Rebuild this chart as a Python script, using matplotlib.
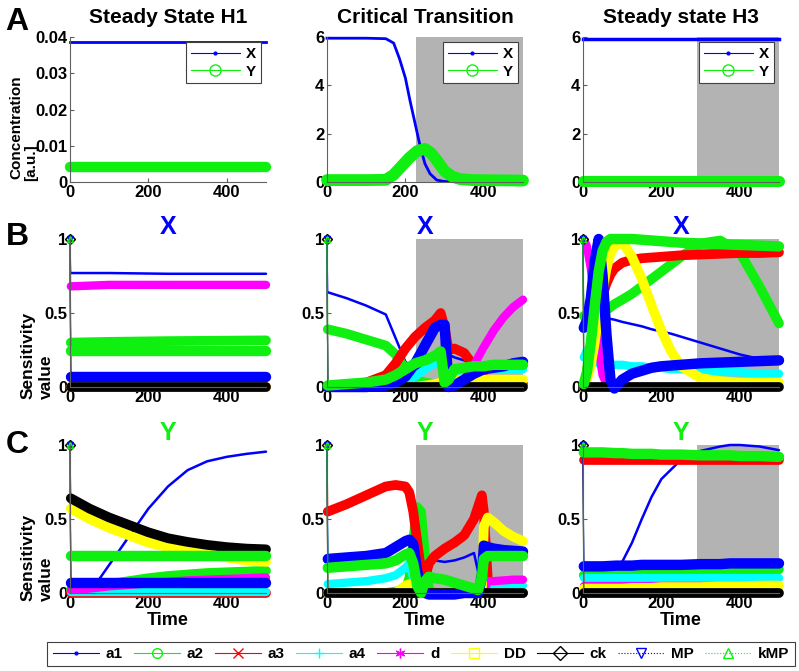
import numpy as np
import matplotlib
matplotlib.use('Agg')
import matplotlib.pyplot as plt
from matplotlib.lines import Line2D

plt.rcParams['font.family'] = ['Liberation Sans', 'DejaVu Sans']
plt.rcParams['font.weight'] = 'bold'

# ---- parameters / styles (MATLAB-like) ----
params = ['a1', 'a2', 'a3', 'a4', 'd', 'DD', 'ck', 'MP', 'kMP']
green = '#10f010'
asterisk = (6, 2, 0)
colors = ['#0000ff', green, '#ff0000', '#00ffff', '#ff00ff', '#ffff00', '#000000', '#0000ff', green]
markers = ['.', 'o', 'x', '+', asterisk, 's', 'D', 'v', '^']
lstyles = ['-', '-', '-', '-', '-', '-', '-', ':', ':']
band_w = [1.8, 7, 7, 6, 6, 7, 7, 7.5, 7.5]

col_titles = ['Steady State H1', 'Critical Transition', 'Steady state H3']
shade_start = [None, 226, 290]

# ---- row A: concentrations ----
t_h1_conc = [0, 100, 200, 300, 400, 500]
h1_X = [0.0385, 0.0385, 0.0385, 0.0385, 0.0385, 0.0385]
h1_Y = [0.0042, 0.0042, 0.0042, 0.0042, 0.0042, 0.0042]

t_ct_X = [0, 100, 150, 170, 185, 200, 212, 225, 238, 250, 263, 280, 300, 400, 500]
ct_X = [5.95, 5.95, 5.93, 5.75, 5.1, 4.3, 3.35, 2.4, 1.45, 0.75, 0.34, 0.08, 0.02, 0.0, 0.0]
t_ct_Y = [0, 100, 150, 170, 190, 210, 230, 250, 265, 280, 300, 320, 340, 370, 500]
ct_Y = [0.08, 0.08, 0.09, 0.3, 0.65, 1.0, 1.28, 1.37, 1.2, 0.9, 0.45, 0.22, 0.12, 0.08, 0.06]

t_h3_conc = [0, 100, 200, 300, 400, 500]
h3_X = [5.93, 5.93, 5.93, 5.93, 5.93, 5.93]
h3_Y = [0.05, 0.05, 0.05, 0.05, 0.05, 0.05]

# ---- row B: sensitivity of X ----
t_sx_h1 = [0, 2, 100, 250, 500]
sx_h1 = {
    'a1': [1, 0.77, 0.77, 0.765, 0.765],
    'a2': [1, 0.30, 0.305, 0.31, 0.315],
    'a3': [1, 0.0, 0.0, 0.0, 0.0],
    'a4': [1, 0.0, 0.0, 0.0, 0.0],
    'd': [1, 0.68, 0.69, 0.69, 0.69],
    'DD': [1, 0.0, 0.0, 0.0, 0.0],
    'ck': [1, 0.0, 0.0, 0.0, 0.0],
    'MP': [1, 0.07, 0.07, 0.07, 0.07],
    'kMP': [1, 0.24, 0.24, 0.24, 0.24],
}

t_sx_ct = [0, 2, 50, 100, 150, 175, 200, 225, 250, 275, 290, 300, 310, 325, 350, 375, 400, 425, 450, 475, 500]
sx_ct = {
    'a1': [1, 0.64, 0.6, 0.55, 0.49, 0.33, 0.17, 0.12, 0.14, 0.17, 0.2, 0.22, 0.22, 0.2, 0.18, 0.15, 0.13, 0.14, 0.15, 0.16, 0.17],
    'a2': [1, 0.39, 0.36, 0.32, 0.28, 0.22, 0.12, 0.05, 0.03, 0.02, 0.02, 0.02, 0.02, 0.05, 0.1, 0.12, 0.13, 0.14, 0.14, 0.15, 0.15],
    'a3': [1, 0.0, 0.01, 0.03, 0.08, 0.16, 0.26, 0.34, 0.4, 0.45, 0.5, 0.4, 0.25, 0.26, 0.23, 0.14, 0.06, 0.03, 0.02, 0.02, 0.02],
    'a4': [1, 0.0, 0.0, 0.0, 0.0, 0.01, 0.03, 0.07, 0.12, 0.16, 0.18, 0.1, 0.08, 0.1, 0.11, 0.12, 0.12, 0.12, 0.12, 0.12, 0.12],
    'd': [1, 0.0, 0.0, 0.0, 0.0, 0.0, 0.0, 0.0, 0.0, 0.0, 0.0, 0.0, 0.0, 0.01, 0.05, 0.15, 0.27, 0.38, 0.47, 0.54, 0.59],
    'DD': [1, 0.0, 0.0, 0.0, 0.0, 0.0, 0.0, 0.0, 0.01, 0.02, 0.03, 0.05, 0.05, 0.05, 0.05, 0.05, 0.05, 0.05, 0.05, 0.05, 0.05],
    'ck': [1, 0.0, 0.0, 0.0, 0.0, 0.0, 0.0, 0.0, 0.0, 0.0, 0.0, 0.0, 0.0, 0.0, 0.0, 0.0, 0.0, 0.0, 0.0, 0.0, 0.0],
    'MP': [1, 0.0, 0.0, 0.0, 0.01, 0.03, 0.07, 0.16, 0.28, 0.4, 0.42, 0.42, 0.0, 0.01, 0.05, 0.09, 0.12, 0.13, 0.14, 0.16, 0.17],
    'kMP': [1, 0.01, 0.02, 0.03, 0.05, 0.08, 0.12, 0.16, 0.18, 0.21, 0.24, 0.03, 0.05, 0.12, 0.13, 0.14, 0.14, 0.15, 0.15, 0.15, 0.15],
}

t_sx_h3 = [0, 2, 10, 20, 30, 40, 50, 60, 70, 80, 100, 125, 150, 175, 200, 225, 250, 300, 350, 400, 450, 500]
sx_h3 = {
    'a1': [1, 0.42, 0.44, 0.46, 0.48, 0.49, 0.48, 0.47, 0.46, 0.455, 0.44, 0.425, 0.41, 0.39, 0.375, 0.36, 0.34, 0.3, 0.26, 0.22, 0.19, 0.17],
    'a2': [1, 0.48, 0.48, 0.49, 0.5, 0.5, 0.51, 0.52, 0.54, 0.56, 0.59, 0.63, 0.68, 0.73, 0.78, 0.83, 0.88, 0.97, 0.99, 0.91, 0.68, 0.43],
    'a3': [1, 0.0, 0.1, 0.25, 0.4, 0.52, 0.62, 0.7, 0.76, 0.8, 0.84, 0.86, 0.87, 0.875, 0.88, 0.885, 0.89, 0.895, 0.9, 0.905, 0.905, 0.91],
    'a4': [1, 0.2, 0.25, 0.2, 0.17, 0.16, 0.15, 0.15, 0.15, 0.15, 0.15, 0.14, 0.14, 0.13, 0.13, 0.12, 0.12, 0.11, 0.1, 0.1, 0.09, 0.09],
    'd': [1, 1.0, 0.95, 0.8, 0.55, 0.25, 0.08, 0.02, 0.01, 0.0, 0.0, 0.0, 0.0, 0.0, 0.0, 0.0, 0.0, 0.0, 0.0, 0.0, 0.0, 0.0],
    'DD': [1, 0.0, 0.05, 0.15, 0.3, 0.5, 0.65, 0.8, 0.9, 0.95, 0.98, 0.88, 0.73, 0.55, 0.38, 0.24, 0.14, 0.06, 0.04, 0.03, 0.03, 0.03],
    'ck': [1, 0.0, 0.0, 0.0, 0.0, 0.0, 0.0, 0.0, 0.0, 0.0, 0.0, 0.0, 0.0, 0.0, 0.0, 0.0, 0.0, 0.0, 0.0, 0.0, 0.0, 0.0],
    'MP': [1, 0.4, 0.45, 0.6, 0.85, 1.0, 0.75, 0.35, 0.05, -0.01, 0.05, 0.09, 0.11, 0.13, 0.14, 0.145, 0.15, 0.16, 0.165, 0.17, 0.175, 0.18],
    'kMP': [1, 0.02, 0.1, 0.3, 0.55, 0.78, 0.92, 0.98, 1.0, 1.0, 1.0, 1.0, 0.995, 0.99, 0.985, 0.98, 0.975, 0.97, 0.965, 0.96, 0.955, 0.95],
}

# ---- row C: sensitivity of Y ----
t_sy_h1 = [0, 2, 50, 100, 150, 200, 250, 300, 350, 400, 450, 500]
sy_h1 = {
    'a1': [1, 0.0, 0.0, 0.19, 0.38, 0.57, 0.72, 0.83, 0.89, 0.92, 0.94, 0.955],
    'a2': [1, 0.02, 0.04, 0.06, 0.08, 0.1, 0.115, 0.125, 0.135, 0.14, 0.145, 0.15],
    'a3': [1, 0.0, 0.0, 0.0, 0.0, 0.0, 0.0, 0.0, 0.0, 0.0, 0.0, 0.0],
    'a4': [1, 0.01, 0.01, 0.01, 0.01, 0.01, 0.01, 0.01, 0.01, 0.01, 0.01, 0.01],
    'd': [1, 0.02, 0.03, 0.045, 0.055, 0.065, 0.075, 0.085, 0.09, 0.095, 0.1, 0.105],
    'DD': [1, 0.57, 0.5, 0.44, 0.39, 0.34, 0.31, 0.28, 0.26, 0.24, 0.22, 0.21],
    'ck': [1, 0.64, 0.57, 0.51, 0.46, 0.41, 0.37, 0.345, 0.325, 0.31, 0.3, 0.295],
    'MP': [1, 0.07, 0.07, 0.07, 0.07, 0.07, 0.07, 0.07, 0.07, 0.07, 0.07, 0.07],
    'kMP': [1, 0.25, 0.25, 0.25, 0.25, 0.25, 0.25, 0.25, 0.25, 0.25, 0.25, 0.25],
}

t_sy_ct = [0, 2, 50, 100, 150, 175, 200, 210, 220, 230, 240, 250, 260, 275, 300, 325, 350, 375, 385, 395, 400, 410, 425, 450, 475, 500]
sy_ct = {
    'a1': [1, 0.22, 0.23, 0.25, 0.27, 0.31, 0.34, 0.36, 0.45, 0.55, 0.45, 0.15, 0.2, 0.22, 0.21, 0.22, 0.24, 0.27, 0.15, 0.03, 0.25, 0.3, 0.3, 0.3, 0.3, 0.3],
    'a2': [1, 0.0, 0.0, 0.0, 0.0, 0.01, 0.02, 0.1, 0.35, 0.58, 0.55, 0.25, 0.02, 0.0, 0.0, 0.0, 0.0, 0.0, 0.0, 0.15, 0.05, 0.0, 0.0, 0.0, 0.0, 0.0],
    'a3': [1, 0.55, 0.6, 0.66, 0.72, 0.73, 0.72, 0.68, 0.55, 0.35, 0.15, 0.1, 0.2, 0.25, 0.3, 0.34, 0.39, 0.5, 0.58, 0.66, 0.55, 0.1, 0.01, 0.0, 0.0, 0.0],
    'a4': [1, 0.06, 0.07, 0.08, 0.1, 0.12, 0.17, 0.2, 0.1, 0.0, 0.0, 0.0, 0.0, 0.0, 0.0, 0.0, 0.0, 0.0, 0.0, 0.0, 0.0, 0.05, 0.05, 0.05, 0.05, 0.05],
    'd': [1, 0.0, 0.0, 0.0, 0.0, 0.0, 0.0, 0.0, 0.0, 0.0, 0.0, 0.0, 0.0, 0.0, 0.0, 0.0, 0.0, 0.0, 0.0, 0.0, 0.0, 0.08, 0.08, 0.085, 0.09, 0.09],
    'DD': [1, 0.0, 0.0, 0.0, 0.0, 0.0, 0.05, 0.06, 0.02, 0.0, 0.0, 0.0, 0.0, 0.0, 0.0, 0.0, 0.0, 0.0, 0.0, 0.0, 0.45, 0.51, 0.48, 0.42, 0.38, 0.35],
    'ck': [1, 0.0, 0.0, 0.0, 0.0, 0.0, 0.0, 0.0, 0.0, 0.0, 0.0, 0.0, 0.0, 0.0, 0.0, 0.0, 0.0, 0.0, 0.0, 0.0, 0.0, 0.0, 0.0, 0.0, 0.0, 0.0],
    'MP': [1, 0.23, 0.24, 0.25, 0.27, 0.31, 0.35, 0.36, 0.33, 0.15, 0.03, 0.0, -0.01, -0.01, -0.01, -0.01, 0.0, 0.0, 0.0, 0.1, 0.32, 0.31, 0.3, 0.29, 0.285, 0.28],
    'kMP': [1, 0.17, 0.18, 0.19, 0.2, 0.22, 0.26, 0.27, 0.2, 0.05, 0.0, 0.08, 0.11, 0.1, 0.09, 0.07, 0.05, 0.03, 0.02, 0.1, 0.23, 0.25, 0.25, 0.25, 0.25, 0.25],
}

t_sy_h3 = [0, 2, 50, 85, 100, 125, 150, 175, 200, 250, 300, 350, 375, 400, 450, 500]
sy_h3 = {
    'a1': [1, np.nan, np.nan, 0.13, 0.21, 0.34, 0.5, 0.65, 0.77, 0.9, 0.96, 0.99, 1.0, 1.0, 0.99, 0.965],
    'a2': [1, 0.12, 0.125, 0.13, 0.13, 0.135, 0.135, 0.14, 0.14, 0.145, 0.15, 0.15, 0.155, 0.155, 0.16, 0.16],
    'a3': [1, 0.9, 0.9, 0.9, 0.9, 0.9, 0.9, 0.9, 0.9, 0.9, 0.9, 0.9, 0.9, 0.9, 0.9, 0.9],
    'a4': [1, 0.1, 0.1, 0.1, 0.1, 0.1, 0.1, 0.1, 0.1, 0.1, 0.1, 0.1, 0.1, 0.1, 0.1, 0.1],
    'd': [1, 0.05, 0.05, 0.05, 0.05, 0.05, 0.05, 0.05, 0.05, 0.05, 0.05, 0.05, 0.05, 0.05, 0.05, 0.05],
    'DD': [1, 0.03, 0.03, 0.03, 0.03, 0.035, 0.035, 0.035, 0.04, 0.04, 0.04, 0.045, 0.045, 0.045, 0.05, 0.05],
    'ck': [1, 0.0, 0.0, 0.0, 0.0, 0.0, 0.0, 0.0, 0.0, 0.0, 0.0, 0.0, 0.0, 0.0, 0.0, 0.0],
    'MP': [1, 0.18, 0.18, 0.185, 0.185, 0.185, 0.19, 0.19, 0.19, 0.19, 0.195, 0.195, 0.2, 0.2, 0.2, 0.2],
    'kMP': [1, 0.95, 0.95, 0.945, 0.945, 0.94, 0.94, 0.94, 0.935, 0.935, 0.93, 0.93, 0.93, 0.925, 0.925, 0.92],
}

# ---- layout (pixels of a 799x671 canvas) ----
W, H = 799., 671.
col_left = [70, 327, 583]
ax_w = 196
rows = [(37, 182), (239, 387), (445, 593)]
shade = '#b3b3b3'

fig = plt.figure(figsize=(7.99, 6.71), dpi=100)


def make_ax(c, r):
    top, bot = rows[r]
    ax = fig.add_axes([col_left[c] / W, 1 - bot / H, ax_w / W, (bot - top) / H])
    ax.set_facecolor('none')
    ax.spines['top'].set_visible(False)
    ax.spines['right'].set_visible(False)
    ax.spines['left'].set_color('#606060')
    ax.spines['bottom'].set_color('#606060')
    ax.tick_params(direction='in', length=3, labelsize=12, pad=2, colors='#606060', labelcolor='black')
    ax.set_xlim(0, 500)
    ax.set_xticks([0, 200, 400])
    if shade_start[c] is not None:
        ax.axvspan(shade_start[c], 500, color=shade, lw=0, zorder=0)
    return ax


def draw_sens(ax, t, data):
    t = np.asarray(t, dtype=float)
    for i, p in enumerate(params):
        y = np.asarray(data[p], dtype=float)
        ax.plot(t[:2], y[:2], color=colors[i], lw=0.8, ls='-', marker=markers[i],
                markevery=[0], ms=5, mfc='none', clip_on=False)
        ax.plot(t[1:], y[1:], color=colors[i], lw=band_w[i], solid_capstyle='round',
                solid_joinstyle='round', clip_on=False)


def conc_legend(ax):
    hx = Line2D([], [], color='#0000ff', lw=0.8, marker='.', ms=4)
    hy = Line2D([], [], color=green, lw=0.8, marker='o', ms=8, mfc='none')
    leg = ax.legend([hx, hy], ['X', 'Y'], loc='upper right', fontsize=11, fancybox=False,
                    edgecolor='#404040', framealpha=1, handlelength=3.2, borderaxespad=0.35,
                    handletextpad=0.4, borderpad=0.3, labelspacing=0.25)
    leg.get_frame().set_linewidth(0.8)


def vlabel(xpx, bottom_px, s, size):
    fig.text(xpx / W, 1 - bottom_px / H, s, rotation=90, ha='center', va='bottom',
             fontsize=size, fontweight='bold')


# row A
for c in range(3):
    ax = make_ax(c, 0)
    if c == 0:
        ax.plot(t_h1_conc, h1_X, color='#0000ff', lw=2, clip_on=False)
        ax.plot(t_h1_conc, h1_Y, color=green, lw=7.5, solid_capstyle='round', clip_on=False)
        ax.set_ylim(0, 0.04)
        ax.set_yticks([0, 0.01, 0.02, 0.03, 0.04])
        ax.set_yticklabels(['0', '0.01', '0.02', '0.03', '0.04'])
    elif c == 1:
        ax.plot(t_ct_X, ct_X, color='#0000ff', lw=2, clip_on=False)
        ax.plot(t_ct_Y, ct_Y, color=green, lw=8.5, solid_capstyle='round', clip_on=False)
    else:
        ax.plot(t_h3_conc, h3_X, color='#0000ff', lw=2.5, clip_on=False)
        ax.plot(t_h3_conc, h3_Y, color=green, lw=8, solid_capstyle='round', clip_on=False)
    if c > 0:
        ax.set_ylim(0, 6)
        ax.set_yticks([0, 2, 4, 6])
    ax.set_title(col_titles[c], fontsize=15, fontweight='bold', pad=10)
    conc_legend(ax)

vlabel(16, 179, 'Concentration', 11)
vlabel(31, 181, '[a.u.]', 11)

# rows B and C
sens_rows = [
    [(t_sx_h1, sx_h1), (t_sx_ct, sx_ct), (t_sx_h3, sx_h3)],
    [(t_sy_h1, sy_h1), (t_sy_ct, sy_ct), (t_sy_h3, sy_h3)],
]
row_titles = [('X', '#0000ff'), ('Y', green)]
for r in range(2):
    for c in range(3):
        ax = make_ax(c, r + 1)
        t, data = sens_rows[r][c]
        draw_sens(ax, t, data)
        ax.set_ylim(0, 1)
        ax.set_yticks([0, 0.5, 1])
        ax.set_yticklabels(['0', '0.5', '1'])
        ax.set_title(row_titles[r][0], fontsize=18, fontweight='bold', color=row_titles[r][1], pad=1)
        if r == 1:
            ax.set_xlabel('Time', fontsize=13, fontweight='bold', labelpad=1)

for bot in [399, 601]:
    vlabel(28, bot, 'Sensitivity', 12.5)
    vlabel(46, bot, 'value', 12.5)

# panel letters
for letter, ypx in [('A', 22), ('B', 237), ('C', 445)]:
    fig.text(17 / W, 1 - ypx / H, letter, fontsize=23, fontweight='bold', ha='center', va='center')

# bottom legend
handles = []
for i, p in enumerate(params):
    handles.append(Line2D([], [], color=colors[i], lw=0.8, ls=lstyles[i], marker=markers[i],
                          ms=4 if markers[i] == '.' else 7, mfc='none'))
leg = fig.legend(handles, params, loc='center', bbox_to_anchor=(421 / W, 1 - 654 / H), ncol=9,
                 fontsize=11, fancybox=False, edgecolor='#404040', framealpha=1,
                 handlelength=3.0, handletextpad=0.45, columnspacing=0.75, borderpad=0.35)
leg.get_frame().set_linewidth(0.8)

fig.savefig('out.png', dpi=100)
